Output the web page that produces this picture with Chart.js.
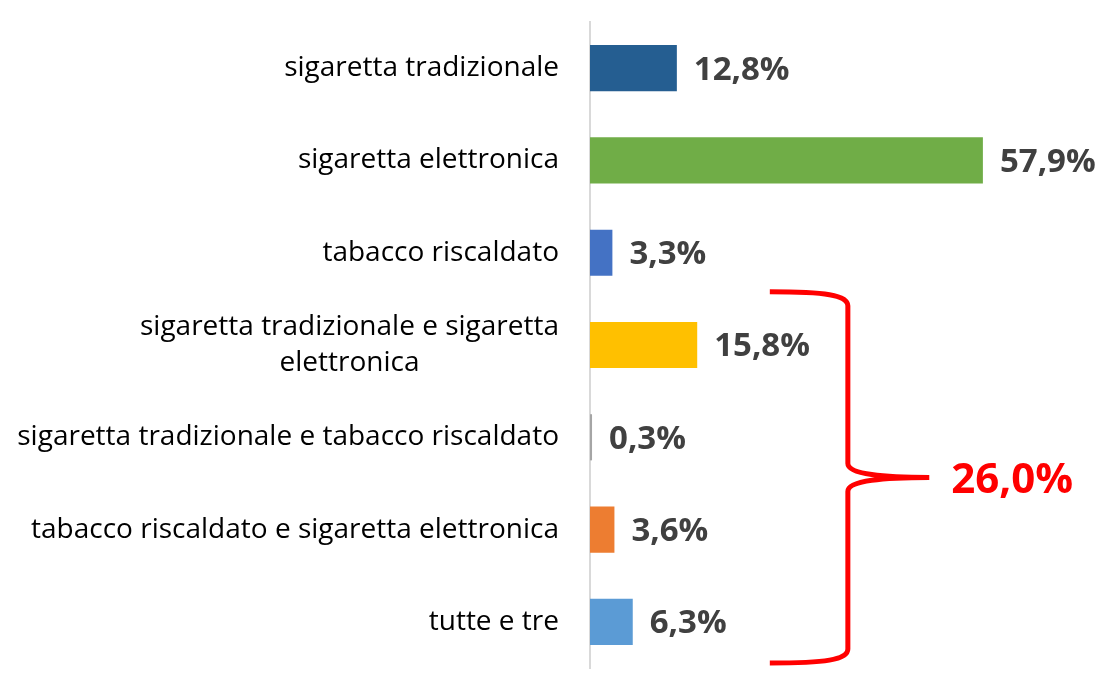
<!DOCTYPE html>
<html>
<head>
<meta charset="utf-8">
<script src="https://cdn.jsdelivr.net/npm/chart.js@4/dist/chart.umd.min.js"></script>
<style>
    body { margin: 0; background: #fff; }
    canvas { display: block; }
</style>
</head>
<body>
<canvas id="barChart" width="1097" height="684"></canvas>
<script>
    // categorie (la terza riga va a capo come nell'originale)
    var categories = [
        "sigaretta tradizionale",
        "sigaretta elettronica",
        "tabacco riscaldato",
        ["sigaretta tradizionale e sigaretta", "elettronica"],
        "sigaretta tradizionale e tabacco riscaldato",
        "tabacco riscaldato e sigaretta elettronica",
        "tutte e tre",
    ];
    var values = [12.8, 57.9, 3.3, 15.8, 0.3, 3.6, 6.3];
    var barColors = ["#255E91", "#70AD47", "#4472C4", "#FFC000", "#A5A5A5", "#ED7D31", "#5B9BD5"];
    var groupFrom = 3; // da qui in giù: uso combinato

    var fmt = function (v) {
        return v.toFixed(1).replace(".", ",") + "%";
    };

    // etichette categorie, valori e parentesi graffa
    var decorPlugin = {
        id: "decor",
        afterDraw: function (chart) {
            var ctx = chart.ctx;
            var yS = chart.scales.y;
            var xS = chart.scales.x;
            var meta = chart.getDatasetMeta(0);
            var rightX = yS.right - 31;

            ctx.save();
            ctx.textBaseline = "middle";

            // etichette asse y
            ctx.font = "28px 'Open Sans'";
            ctx.fillStyle = "#000";
            categories.forEach(function (lab, i) {
                var lines = Array.isArray(lab) ? lab : [lab];
                var yc = yS.getPixelForValue(i);
                var y0 = yc - (lines.length - 1) * 18;
                var w0 = ctx.measureText(lines[0]).width;
                lines.forEach(function (t, k) {
                    if (k === 0) {
                        ctx.textAlign = "right";
                        ctx.fillText(t, rightX, y0);
                    } else {
                        ctx.textAlign = "center";
                        ctx.fillText(t, rightX - w0 / 2, y0 + k * 36);
                    }
                });
            });

            // valori
            ctx.font = "bold 33px 'Open Sans'";
            ctx.fillStyle = "#404040";
            ctx.textAlign = "left";
            meta.data.forEach(function (bar, i) {
                ctx.fillText(fmt(values[i]), bar.x + 17, bar.y + 2);
            });

            // parentesi graffa
            var step = yS.getPixelForValue(1) - yS.getPixelForValue(0);
            var top = yS.getPixelForValue(groupFrom) - step / 2 - 7;
            var bottom = yS.getPixelForValue(values.length - 1) + step / 2 - 5;
            var mid = (top + bottom) / 2;
            var armX = xS.getPixelForValue(26.5);
            var spineX = xS.getPixelForValue(38);
            var tipX = xS.getPixelForValue(50);

            ctx.strokeStyle = "#FF0000";
            ctx.lineWidth = 5;
            ctx.lineJoin = "round";
            ctx.beginPath();
            ctx.moveTo(armX, top);
            ctx.bezierCurveTo(armX + 55, top, spineX, top + 3, spineX, top + 14);
            ctx.lineTo(spineX, mid - 14);
            ctx.bezierCurveTo(spineX, mid - 3, tipX - 45, mid, tipX, mid);
            ctx.moveTo(tipX, mid);
            ctx.bezierCurveTo(tipX - 45, mid, spineX, mid + 3, spineX, mid + 14);
            ctx.lineTo(spineX, bottom - 14);
            ctx.bezierCurveTo(spineX, bottom - 3, armX + 55, bottom, armX, bottom);
            ctx.stroke();

            var total = values.slice(groupFrom).reduce(function (a, b) { return a + b; }, 0);
            ctx.font = "bold 42px 'Open Sans'";
            ctx.fillStyle = "#FF0000";
            ctx.fillText(fmt(total), tipX + 22, mid + 4);

            ctx.restore();
        },
    };

    var ctx = document.getElementById("barChart").getContext("2d");
    new Chart(ctx, {
        type: "bar",
        data: {
            labels: categories,
            datasets: [
                {
                    data: values,
                    backgroundColor: barColors,
                    categoryPercentage: 1,
                    barPercentage: 0.5,
                },
            ],
        },
        options: {
            indexAxis: "y",
            responsive: false,
            animation: false,
            layout: { padding: { top: 22, bottom: 16, right: 32, left: 0 } },
            plugins: {
                legend: { display: false },
                tooltip: { enabled: false },
            },
            scales: {
                x: { display: false, min: 0, max: 70 },
                y: {
                    ticks: { display: false },
                    grid: { display: false },
                    border: { display: true, color: "#D9D9D9", width: 2 },
                    afterFit: function (scale) {
                        scale.width = 590;
                    },
                },
            },
        },
        plugins: [decorPlugin],
    });
</script>
</body>
</html>
